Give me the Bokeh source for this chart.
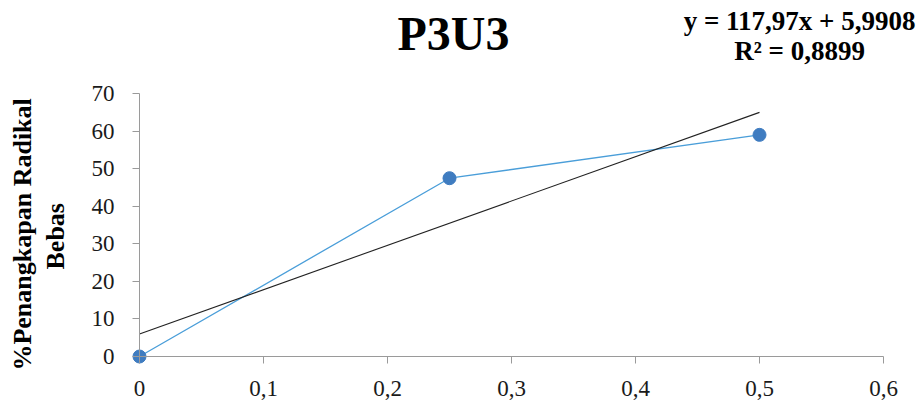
import math
from bokeh.plotting import figure
from bokeh.models import Label, Range1d, FixedTicker
from bokeh.embed import file_html
from bokeh.resources import INLINE

# ---- data ----
conc = [0, 0.25, 0.5]
inhibition = [0.0, 47.46, 58.99]
slope = 117.97
intercept = 5.9908
trend_x = [0, 0.5]
trend_y = [slope * v + intercept for v in trend_x]

x_ticks = [0, 0.1, 0.2, 0.3, 0.4, 0.5, 0.6]
x_tick_labels = ["0", "0,1", "0,2", "0,3", "0,4", "0,5", "0,6"]
y_ticks = [0, 10, 20, 30, 40, 50, 60, 70]
y_tick_labels = ["0", "10", "20", "30", "40", "50", "60", "70"]

title_text = "P3U3"
eq_line1 = "y = 117,97x + 5,9908"
eq_line2 = "R\u00b2 = 0,8899"
ylabel_line1 = "%Penangkapan Radikal"
ylabel_line2 = "Bebas"

SERIF = "Liberation Serif"
W, H = 919, 401
PX_X = 1240.0   # pixels per x unit
PX_Y = 3.757    # pixels per y unit
X0, Y0 = 139, 356  # pixel position of the origin

p = figure(width=W, height=H, output_backend="svg", toolbar_location=None,
           x_range=Range1d(-X0 / PX_X, (W - X0) / PX_X),
           y_range=Range1d(-(H - Y0) / PX_Y, Y0 / PX_Y),
           min_border_left=0, min_border_right=0, min_border_top=0,
           min_border_bottom=0)
p.outline_line_color = None
p.xgrid.visible = False
p.ygrid.visible = False
p.background_fill_color = "white"
p.border_fill_color = "white"

for ax in (p.xaxis[0], p.yaxis[0]):
    ax.fixed_location = 0
    ax.axis_line_color = "#9a9a9a"
    ax.axis_line_width = 1
    ax.major_tick_line_color = "#9a9a9a"
    ax.major_tick_out = 7
    ax.major_tick_in = 0
    ax.minor_tick_line_color = None
    ax.major_label_text_font = SERIF
    ax.major_label_text_font_size = "23px"
    ax.major_label_text_color = "#1a1a1a"

p.xaxis[0].bounds = (0, 0.6)
p.yaxis[0].bounds = (0, 70)
p.xaxis[0].ticker = FixedTicker(ticks=x_ticks)
p.yaxis[0].ticker = FixedTicker(ticks=y_ticks)
p.xaxis[0].major_label_overrides = dict(zip(x_ticks, x_tick_labels))
p.yaxis[0].major_label_overrides = dict(zip(y_ticks, y_tick_labels))
p.xaxis[0].major_label_standoff = 17
p.yaxis[0].major_label_standoff = 18

p.line(conc, inhibition, line_color="#4a9ed9", line_width=1.3)
p.line(trend_x, trend_y, line_color="#222222", line_width=1.1)
p.scatter(conc, inhibition, size=13, fill_color="#3f7cc0", line_color="#3f7cc0")

TXT = "#000000"
p.add_layout(Label(x=0.2532, y=85.9, text=title_text, text_font=SERIF,
                   text_font_size="48px", text_font_style="bold", text_color=TXT,
                   text_align="center", text_baseline="alphabetic"))
p.add_layout(Label(x=0.5323, y=89.2, text=eq_line1, text_font=SERIF,
                   text_font_size="27px", text_font_style="bold", text_color=TXT,
                   text_align="center", text_baseline="alphabetic"))
p.add_layout(Label(x=0.5323, y=81.3, text=eq_line2, text_font=SERIF,
                   text_font_size="27px", text_font_style="bold", text_color=TXT,
                   text_align="center", text_baseline="alphabetic"))
p.add_layout(Label(x=-0.0945, y=32.5, text=ylabel_line1, text_font=SERIF,
                   text_font_size="26px", text_font_style="bold", text_color=TXT,
                   angle=math.pi / 2, text_align="center",
                   text_baseline="alphabetic"))
p.add_layout(Label(x=-0.0678, y=32.0, text=ylabel_line2, text_font=SERIF,
                   text_font_size="26px", text_font_style="bold", text_color=TXT,
                   angle=math.pi / 2, text_align="center",
                   text_baseline="alphabetic"))

open("out.html", "w").write(file_html(p, INLINE))
